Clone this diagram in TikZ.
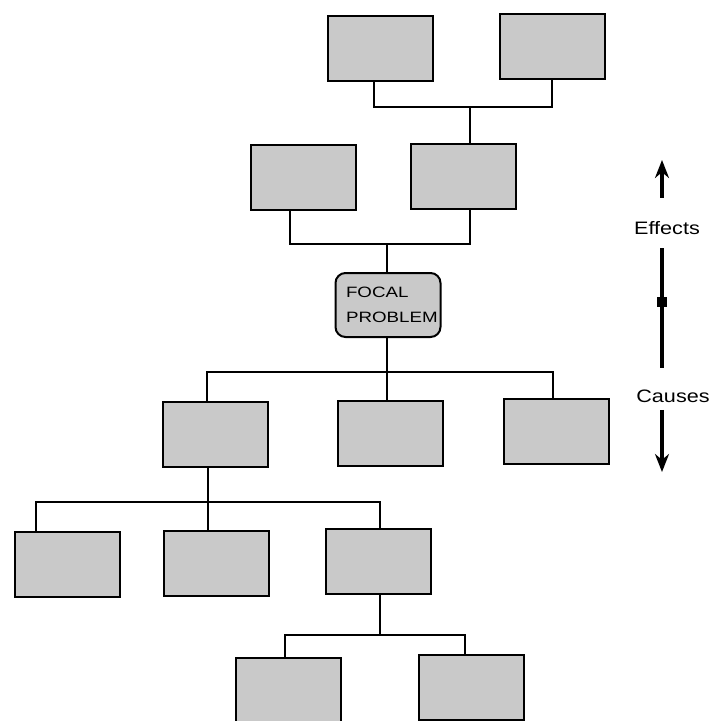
\documentclass[tikz,border=0pt]{standalone}
\usepackage{fontspec}
\setmainfont{Liberation Sans}
\newfontfamily\tagfont[FakeStretch=1.2]{Liberation Sans}
\newfontfamily\focalfont[FakeStretch=1.25]{Liberation Sans}
\usetikzlibrary{arrows.meta}
\begin{document}
\begin{tikzpicture}[x=1pt,y=-1pt,box/.style={draw, fill=gray!42, line width=2pt, minimum width=105pt, minimum height=65pt, inner sep=0pt}, link/.style={line width=2.2pt}, tag/.style={font=\tagfont\fontsize{18}{20}\selectfont}]
    \useasboundingbox (0,0) rectangle (713,721);
    % effects
    \node[box] (a) at (380,48) {};
    \node[box] (b) at (552,46) {};
    \node[box] (c) at (303,177) {};
    \node[box] (d) at (463,176) {};
    \node[box, rounded corners=10pt, minimum height=64pt, text width=84pt, align=left, font=\focalfont\fontsize{15}{25}\selectfont] (focal) at (388,305) {FOCAL\\PROBLEM};
    % causes
    \node[box] (e) at (215,434) {};
    \node[box] (f) at (390,433) {};
    \node[box] (g) at (556,431) {};
    \node[box] (h) at (67,564) {};
    \node[box] (i) at (216,563) {};
    \node[box] (j) at (378,561) {};
    \node[box] (k) at (288,690) {};
    \node[box] (l) at (471,687) {};
    \coordinate (ab) at (470,107);
    \coordinate (cd) at (387,244);
    \coordinate (efg) at (387,372);
    \coordinate (hij) at (208,502);
    \coordinate (kl) at (380,635);
    \draw[link] ([xshift=-6pt]a.south) |- (ab) -| (b.south);
    \draw[link] (ab) -- (d.north -| ab);
    \draw[link] ([xshift=-13pt]c.south) |- (cd) -| ([xshift=7pt]d.south);
    \draw[link] (cd) -- (focal.north -| cd);
    \draw[link] (focal.south -| efg) -- (f.north -| efg);
    \draw[link] ([xshift=-8pt]e.north) |- (efg) -| ([xshift=-3pt]g.north);
    \draw[link] (e.south -| hij) -- (i.north -| hij);
    \draw[link] ([xshift=-31pt]h.north) |- (hij) -| ([xshift=2pt]j.north);
    \draw[link] (j.south -| kl) -- (kl);
    \draw[link] ([xshift=-3pt]k.north) |- (kl) -| ([xshift=-6pt]l.north);
    % direction
    \node[tag] (eff) at (667,228) {Effects};
    \node[tag] (cau) at (673,396) {Causes};
    \coordinate (up) at (662,160);
    \coordinate (dn) at (662,472);
    \draw[line width=4pt,-{Stealth[length=18pt,width=14pt]}] (eff.north -| up) ++(0,-20) -- (up);
    \draw[line width=4pt] ([yshift=-10pt]eff.south -| up) -- ([yshift=18pt]cau.north -| up);
    \fill (657,297) rectangle (667,307);
    \draw[line width=4pt,-{Stealth[length=18pt,width=14pt]}] ([yshift=-4pt]cau.south -| dn) -- (dn);
  \end{tikzpicture}
\end{document}
